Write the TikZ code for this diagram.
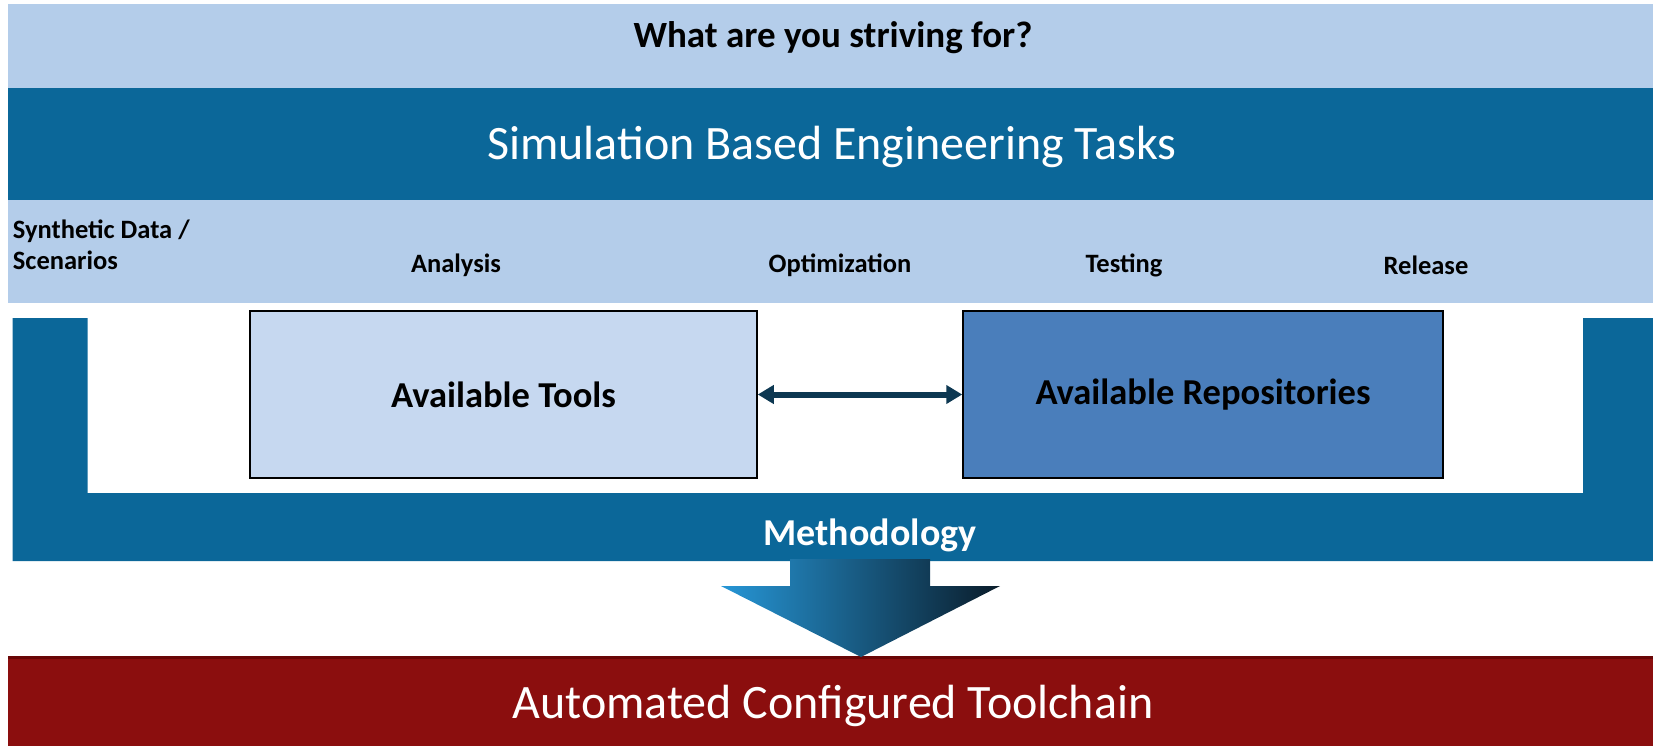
\documentclass[tikz,border=0pt]{standalone}
\usepackage{fontspec}
\setmainfont{Carlito}
\usetikzlibrary{arrows.meta}

\definecolor{skyband}{RGB}{180,205,234}
\definecolor{seaband}{RGB}{11,103,153}
\definecolor{toolfill}{RGB}{198,216,240}
\definecolor{repofill}{RGB}{74,126,187}
\definecolor{linkline}{RGB}{13,56,82}
\definecolor{chainred}{RGB}{139,14,14}
\definecolor{chainedge}{RGB}{105,6,6}
\definecolor{flowlight}{RGB}{38,150,214}
\definecolor{flowmid}{RGB}{20,78,112}
\definecolor{flowdark}{RGB}{10,28,42}

\begin{document}
\begin{tikzpicture}[x=1pt, y=-1pt,
    stage/.style={font=\bfseries\fontsize{26.5}{31}\selectfont, anchor=base, inner sep=0pt},
    banner/.style={font=\fontsize{48}{56}\selectfont, anchor=base, inner sep=0pt},
    repobox/.style={draw=black, line width=1.5pt, minimum height=167pt,
        font=\bfseries\fontsize{36.5}{42}\selectfont},
    link/.style={{Triangle[length=16pt,width=18pt]}-{Triangle[length=16pt,width=18pt]},
        line width=6pt, draw=linkline}]
    \useasboundingbox (0,0) rectangle (1653,746);

    \fill[skyband] (8,4) rectangle (1653,88);
    \fill[seaband] (8,88) rectangle (1653,200);
    \fill[skyband] (8,200) rectangle (1653,303);
    \fill[seaband] (12.6,318) -- (87.5,318) -- (87.5,493) -- (1583,493) -- (1583,318)
        -- (1653,318) -- (1653,561) -- (12.6,561) -- cycle;
    \fill[chainred] (8,656) rectangle (1653,746);
    \draw[chainedge, line width=3pt] (8,657.5) -- (1653,657.5);
    \shade[left color=flowlight, middle color=flowmid, right color=flowdark] (790,559) -- (930,559) -- (930,586)
        -- (1000,586) -- (861,657) -- (721,586) -- (790,586) -- cycle;

    \node[stage, font=\bfseries\fontsize{37}{42}\selectfont] (goal) at (833,48) {What are you striving for?};
    \node[banner, white] (tasks) at (832,160) {Simulation Based Engineering Tasks};

    \node[stage, anchor=north west, align=left] (synth) at (12.7,220) {Synthetic Data /\\Scenarios};
    \node[stage] (analysis) at (456,272) {Analysis};
    \node[stage] (optim) at (840,272) {Optimization};
    \node[stage] (testing) at (1124,272) {Testing};
    \node[stage] (release) at (1426,274) {Release};

    \node[repobox, fill=toolfill, minimum width=507pt] (tools) at (503.5,394.5) {Available Tools};
    \node[repobox, fill=repofill, minimum width=480pt] (repos) at (1203,394.5) {Available Repositories};
    \draw[link] (tools) -- (repos);

    \node[stage, white, font=\bfseries\fontsize{38}{42}\selectfont] (method) at (870,545) {Methodology};
    \node[banner, white] (chain) at (833,718) {Automated Configured Toolchain};
\end{tikzpicture}
\end{document}
